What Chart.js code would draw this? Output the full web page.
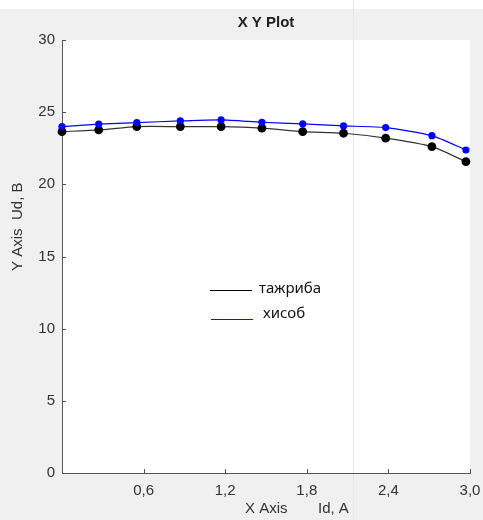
<!DOCTYPE html>
<html>
<head>
<meta charset="utf-8">
<script src="https://cdn.jsdelivr.net/npm/chart.js@4.4.1/dist/chart.umd.min.js"></script>
<style>
  html, body { margin: 0; padding: 0; background: #f0f0f0; }
  #wrap { width: 483px; height: 520px; position: relative; }
</style>
</head>
<body>
<div id="wrap"><canvas id="xyChart" width="483" height="520"></canvas></div>
<script>
// Id, A
const xValues = [0, 0.27, 0.55, 0.87, 1.17, 1.47, 1.77, 2.07, 2.38, 2.72, 2.97];
// Ud, B - experiment (тажриба)
const experiment = [23.65, 23.77, 24.0, 24.0, 24.0, 23.89, 23.65, 23.54, 23.2, 22.61, 21.57];
// Ud, B - calculation (хисоб)
const calculated = [24.0, 24.17, 24.28, 24.39, 24.46, 24.3, 24.19, 24.05, 23.93, 23.37, 22.38];
const seriesNames = ['тажриба', 'хисоб'];
const xTicks = [0, 0.6, 1.2, 1.8, 2.4, 3.0];
const yTicks = [0, 5, 10, 15, 20, 25, 30];

const toPoints = ys => xValues.map((x, i) => ({ x: x, y: ys[i] }));

// background, inner tick marks, titles and the in-plot legend
const decor = {
  id: 'decor',
  beforeDraw(chart) {
    const { ctx, chartArea: a } = chart;
    ctx.save();
    ctx.fillStyle = '#f0f0f0';
    ctx.fillRect(0, 0, chart.width, chart.height);
    ctx.fillStyle = '#ffffff';
    ctx.fillRect(0, 0, chart.width, 9);
    ctx.fillRect(a.left, a.top, a.right - a.left, a.bottom - a.top);
    ctx.strokeStyle = '#e6e6e6';
    ctx.lineWidth = 1;
    ctx.beginPath();
    ctx.moveTo(353.5, 0);
    ctx.lineTo(353.5, chart.height);
    ctx.stroke();
    ctx.restore();
  },
  afterDraw(chart) {
    const { ctx, chartArea: a, scales } = chart;
    ctx.save();
    ctx.strokeStyle = '#555';
    ctx.lineWidth = 1;
    ctx.beginPath();
    yTicks.forEach(v => {
      const y = Math.round(scales.y.getPixelForValue(v)) + 0.5;
      ctx.moveTo(a.left, y);
      ctx.lineTo(a.left + 4, y);
    });
    xTicks.forEach(v => {
      const x = Math.round(scales.x.getPixelForValue(v)) + 0.5;
      ctx.moveTo(x, a.bottom);
      ctx.lineTo(x, a.bottom - 4);
    });
    ctx.stroke();

    ctx.fillStyle = '#222';
    ctx.font = 'bold 15px "Liberation Sans", Arial, sans-serif';
    ctx.textAlign = 'center';
    ctx.textBaseline = 'middle';
    ctx.fillText('X Y Plot', (a.left + a.right) / 2, 23);

    ctx.font = '15px "Liberation Sans", Arial, sans-serif';
    ctx.fillStyle = '#333';
    ctx.textAlign = 'left';
    ctx.fillText('X Axis', 245, 509);
    ctx.fillText('Id, A', 318, 509);

    ctx.translate(18, 0);
    ctx.rotate(-Math.PI / 2);
    ctx.textAlign = 'left';
    ctx.fillText('Y Axis', -271, 0);
    ctx.fillText('Ud, B', -220, 0);
    ctx.restore();

    ctx.save();
    ctx.font = '15px "Noto Sans", "Open Sans", sans-serif';
    ctx.textBaseline = 'middle';
    ctx.textAlign = 'left';
    ctx.lineWidth = 1.2;
    ctx.strokeStyle = '#000';
    ctx.beginPath();
    ctx.moveTo(210, 290.5);
    ctx.lineTo(252, 290.5);
    ctx.stroke();
    ctx.strokeStyle = '#1010ff';
    ctx.beginPath();
    ctx.moveTo(211, 319.5);
    ctx.lineTo(253, 319.5);
    ctx.stroke();
    ctx.fillStyle = '#111';
    ctx.fillText(seriesNames[0], 259, 289);
    ctx.fillText(seriesNames[1], 263, 314);
    ctx.restore();
  }
};

new Chart(document.getElementById('xyChart').getContext('2d'), {
  type: 'scatter',
  data: {
    datasets: [
      {
        label: seriesNames[1],
        data: toPoints(calculated),
        showLine: true,
        borderColor: '#0000ff',
        borderWidth: 1.2,
        backgroundColor: '#0000ff',
        pointRadius: 3.6,
        pointBorderWidth: 0,
        tension: 0.2,
        clip: false
      },
      {
        label: seriesNames[0],
        data: toPoints(experiment),
        showLine: true,
        borderColor: '#333333',
        borderWidth: 1.2,
        backgroundColor: '#000000',
        pointRadius: 4.4,
        pointBorderWidth: 0,
        tension: 0.2,
        clip: false
      }
    ]
  },
  options: {
    responsive: false,
    animation: false,
    layout: { padding: { top: 40, right: 13, left: 0, bottom: 0 } },
    plugins: {
      legend: { display: false },
      title: { display: false },
      tooltip: { enabled: false }
    },
    scales: {
      x: {
        type: 'linear',
        min: 0,
        max: 3,
        afterFit: s => { s.height = 47; s.paddingLeft = 0; s.paddingRight = 0; },
        afterBuildTicks: s => { s.ticks = xTicks.map(v => ({ value: v })); },
        grid: { display: false, drawTicks: false },
        border: { display: true, color: '#555', width: 1 },
        ticks: {
          color: '#333',
          padding: 9,
          font: { family: '"Liberation Sans", Arial, sans-serif', size: 15 },
          callback: v => v === 0 ? '' : v.toFixed(1).replace('.', ',')
        }
      },
      y: {
        min: 0,
        max: 30,
        afterFit: s => { s.width = 62; s.paddingTop = 0; s.paddingBottom = 0; },
        afterBuildTicks: s => { s.ticks = yTicks.map(v => ({ value: v })); },
        grid: { display: false, drawTicks: false },
        border: { display: true, color: '#555', width: 1 },
        ticks: {
          color: '#333',
          padding: 7,
          font: { family: '"Liberation Sans", Arial, sans-serif', size: 15 }
        }
      }
    }
  },
  plugins: [decor]
});
</script>
</body>
</html>
